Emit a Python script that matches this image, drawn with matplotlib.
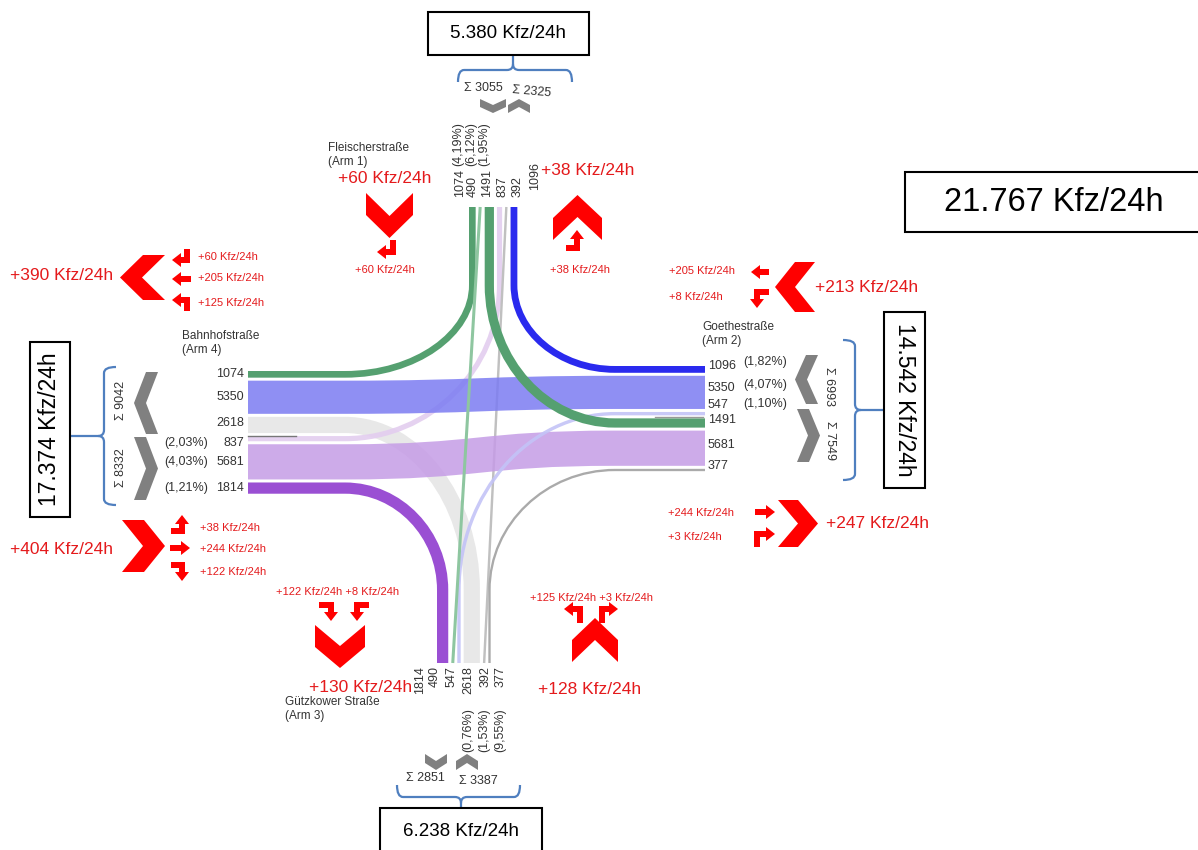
import matplotlib
matplotlib.use('Agg')
import matplotlib.pyplot as plt
from matplotlib.path import Path
from matplotlib.patches import PathPatch, Polygon, Rectangle

plt.rcParams['font.family'] = ['Liberation Sans', 'DejaVu Sans']

# Verkehrsströme Kfz/24h (von_nach)
flow_names = ['N_W', 'N_S', 'N_E', 'E_N', 'E_W', 'E_S', 'W_N', 'W_E', 'W_S', 'S_W', 'S_N', 'S_E']
flow_values = [1074, 490, 1491, 1096, 5350, 547, 837, 5681, 1814, 2618, 392, 377]
flow_colors = ['#55a070', '#8ec6a0', '#55a070', '#2a2aee', '#7c7cf2', '#c3c3f7',
               '#e3cdef', '#c59ce6', '#9a4fd3', '#e4e4e4', '#c0c0c0', '#aaaaaa']
flow_alpha = [1, 1, 1, 1, 0.85, 0.9, 0.9, 0.85, 1, 0.85, 1, 1]
flow_z = [5, 7, 6, 6, 4, 5, 2, 4, 5, 1, 3, 5]

# Reihenfolge der Ströme an jedem Arm
arm_north = ['N_W', 'N_S', 'N_E', 'W_N', 'S_N', 'E_N']
arm_west = ['N_W', 'E_W', 'S_W', 'W_N', 'W_E', 'W_S']
arm_east = ['E_N', 'E_W', 'E_S', 'N_E', 'W_E', 'S_E']
arm_south = ['W_S', 'N_S', 'E_S', 'S_W', 'S_N', 'S_E']

# Schwerverkehrsanteile
north_pct = ['(4,19%)', '(6,12%)', '(1,95%)']
west_pct = ['(2,03%)', '(4,03%)', '(1,21%)']
east_pct = ['(1,82%)', '(4,07%)', '(1,10%)']
south_pct = ['(0,76%)', '(1,53%)', '(9,55%)']

# Zusatzverkehr (rot)
add_arm1 = [60, 60]
add_top_right = [38, 38]
add_west_in = [390, 60, 205, 125]
add_east_in = [213, 205, 8]
add_west_out = [404, 38, 244, 122]
add_east_out = [247, 244, 3]
add_south_in = [130, 122, 8]
add_south_out = [128, 125, 3]

val = dict(zip(flow_names, flow_values))
PX = 0.72
K = 0.0062
GAP = 3
RED = '#e41a1c'
CHEV = '#ff0000'
GREY_T = '#333333'
GREY_C = '#808080'
BLUE = '#4f7fbf'


def de(v):
    return f'{v:,}'.replace(',', '.')


def kfz(v):
    return f'+{v} Kfz/24h'


def lanes(order, start):
    pos = {}
    c = start
    for n in order:
        w = val[n] * K
        pos[n] = c + w / 2
        c += w + GAP
    return pos


lane = {'N': lanes(arm_north, 469), 'S': lanes(arm_south, 437),
        'W': lanes(arm_west, 371), 'E': lanes(arm_east, 366)}
arm_end = {'N': 207, 'S': 663, 'W': 248, 'E': 705}
arm_run = {'N': 285, 'S': 590, 'W': 345, 'E': 615}


def pts(arm, name):
    p = lane[arm][name]
    if arm in 'NS':
        return (p, arm_end[arm]), (p, arm_run[arm])
    return (arm_end[arm], p), (arm_run[arm], p)


fig = plt.figure(figsize=(11.98, 8.5), dpi=100)
ax = fig.add_axes([0, 0, 1, 1])
ax.set_xlim(0, 1198)
ax.set_ylim(850, 0)
ax.axis('off')

# Ströme
for name, v, col, al, z in zip(flow_names, flow_values, flow_colors, flow_alpha, flow_z):
    a, b = name.split('_')
    ea, ra = pts(a, name)
    eb, rb = pts(b, name)
    if {a, b} == {'N', 'S'}:
        verts = [ea, eb]
        codes = [Path.MOVETO, Path.LINETO]
    elif {a, b} == {'W', 'E'}:
        xm = (ra[0] + rb[0]) / 2
        verts = [ea, ra, (xm, ra[1]), (xm, rb[1]), rb, eb]
        codes = [Path.MOVETO, Path.LINETO, Path.CURVE4, Path.CURVE4, Path.CURVE4, Path.LINETO]
    else:
        if a in 'NS':
            corner = (ra[0], rb[1])
        else:
            corner = (rb[0], ra[1])
        c1 = (ra[0] + 0.55 * (corner[0] - ra[0]), ra[1] + 0.55 * (corner[1] - ra[1]))
        c2 = (rb[0] + 0.55 * (corner[0] - rb[0]), rb[1] + 0.55 * (corner[1] - rb[1]))
        verts = [ea, ra, c1, c2, rb, eb]
        codes = [Path.MOVETO, Path.LINETO, Path.CURVE4, Path.CURVE4, Path.CURVE4, Path.LINETO]
    ax.add_patch(PathPatch(Path(verts, codes), facecolor='none', edgecolor=col,
                           lw=v * K * PX, alpha=al, capstyle='butt', joinstyle='round', zorder=z))

# kurze dunkle Striche an den Armen
ax.plot([248, 296], [lane['W']['W_N'] - 3, lane['W']['W_N'] - 3], color='#777777', lw=1, zorder=6)
ax.plot([655, 703], [lane['E']['E_S'] + 3, lane['E']['E_S'] + 3], color='#999999', lw=1, zorder=6)


def chevron(x0, y0, x1, y1, d, th, color):
    xm, ym = (x0 + x1) / 2, (y0 + y1) / 2
    if d == 'down':
        p = [(x0, y0), (xm, y1 - th), (x1, y0), (x1, y0 + th), (xm, y1), (x0, y0 + th)]
    elif d == 'up':
        p = [(x0, y1), (xm, y0 + th), (x1, y1), (x1, y1 - th), (xm, y0), (x0, y1 - th)]
    elif d == 'left':
        p = [(x1, y0), (x0 + th, ym), (x1, y1), (x1 - th, y1), (x0, ym), (x1 - th, y0)]
    else:
        p = [(x0, y0), (x1 - th, ym), (x0, y1), (x0 + th, y1), (x1, ym), (x0 + th, y0)]
    ax.add_patch(Polygon(p, closed=True, facecolor=color, edgecolor='none', zorder=8))


def turn_arrow(xs, ys, w=6, hw=14, hl=9):
    ax.plot(xs, ys, color=CHEV, lw=w * PX, solid_capstyle='butt', solid_joinstyle='miter', zorder=8)
    dx, dy = xs[-1] - xs[-2], ys[-1] - ys[-2]
    n = (dx ** 2 + dy ** 2) ** 0.5
    dx, dy = dx / n, dy / n
    px, py = -dy, dx
    ex, ey = xs[-1], ys[-1]
    ax.add_patch(Polygon([(ex + px * hw / 2, ey + py * hw / 2), (ex - px * hw / 2, ey - py * hw / 2),
                          (ex + dx * hl, ey + dy * hl)], closed=True, facecolor=CHEV,
                         edgecolor='none', zorder=8))


def brace(u0, u1, um, base, length, orient):
    halves = [[(u0, -12), (u0, 0), (u0 + 6, 0), (um - 6, 0), (um, 0), (um, 6), (um, length)],
              [(u1, -12), (u1, 0), (u1 - 6, 0), (um + 6, 0), (um, 0), (um, 6)]]
    codes_h = [[Path.MOVETO, Path.CURVE3, Path.CURVE3, Path.LINETO, Path.CURVE3, Path.CURVE3, Path.LINETO],
               [Path.MOVETO, Path.CURVE3, Path.CURVE3, Path.LINETO, Path.CURVE3, Path.CURVE3]]
    for h, c in zip(halves, codes_h):
        if orient == 'up':
            v = [(u, base - t) for u, t in h]
        elif orient == 'down':
            v = [(u, base + t) for u, t in h]
        elif orient == 'left':
            v = [(base - t, u) for u, t in h]
        else:
            v = [(base + t, u) for u, t in h]
        ax.add_patch(PathPatch(Path(v, c), facecolor='none', edgecolor=BLUE, lw=1.6, zorder=8))


def box(x, y, w, h, txt, size, rot=0):
    ax.add_patch(Rectangle((x, y), w, h, facecolor='white', edgecolor='black', lw=1.5, zorder=9))
    ax.text(x + w / 2, y + h / 2, txt, fontsize=size, rotation=rot, ha='center', va='center',
            color='black', zorder=10)


# Querschnittsbelastungen
tot_n = sum(val[n] for n in arm_north)
tot_s = sum(val[n] for n in arm_south)
tot_w = sum(val[n] for n in arm_west)
tot_e = sum(val[n] for n in arm_east)
box(428, 12, 161, 43, de(tot_n) + ' Kfz/24h', 13.5)
box(380, 808, 162, 46, de(tot_s) + ' Kfz/24h', 13.5)
box(30, 342, 40, 175, de(tot_w) + ' Kfz/24h', 16.5, 90)
box(884, 312, 41, 176, de(tot_e) + ' Kfz/24h', 16.5, -90)
box(905, 172, 297, 60, de(sum(flow_values)) + ' Kfz/24h', 23.5)

brace(458, 572, 513, 70, 15, 'up')
brace(397, 520, 461, 797, 11, 'down')
brace(367, 505, 436, 104, 34, 'left')
brace(340, 480, 410, 855, 29, 'right')

# Summen je Richtung
sn1 = sum(val[n] for n in arm_north[:3]); sn2 = sum(val[n] for n in arm_north[3:])
ss1 = sum(val[n] for n in arm_south[:3]); ss2 = sum(val[n] for n in arm_south[3:])
sw1 = sum(val[n] for n in arm_west[:3]); sw2 = sum(val[n] for n in arm_west[3:])
se1 = sum(val[n] for n in arm_east[:3]); se2 = sum(val[n] for n in arm_east[3:])
fs = 9
ax.text(483, 88, f'Σ {sn1}', fontsize=fs, ha='center', va='center', color=GREY_T)
ax.text(532, 92, f'Σ {sn2}', fontsize=fs, ha='center', va='center', color=GREY_T, rotation=-5)
ax.text(425, 778, f'Σ {ss1}', fontsize=fs, ha='center', va='center', color=GREY_T)
ax.text(478, 781, f'Σ {ss2}', fontsize=fs, ha='center', va='center', color=GREY_T)
ax.text(121, 400, f'Σ {sw1}', fontsize=fs, ha='center', va='center', color=GREY_T, rotation=90)
ax.text(121, 468, f'Σ {sw2}', fontsize=fs, ha='center', va='center', color=GREY_T, rotation=90)
ax.text(829, 386, f'Σ {se1}', fontsize=fs, ha='center', va='center', color=GREY_T, rotation=-90)
ax.text(830, 440, f'Σ {se2}', fontsize=fs, ha='center', va='center', color=GREY_T, rotation=-90)

chevron(480, 99, 506, 113, 'down', 8, GREY_C)
chevron(508, 99, 530, 113, 'up', 8, GREY_C)
chevron(425, 754, 447, 770, 'down', 9, GREY_C)
chevron(456, 754, 478, 770, 'up', 9, GREY_C)
chevron(134, 372, 158, 434, 'left', 12, GREY_C)
chevron(134, 437, 158, 500, 'right', 12, GREY_C)
chevron(795, 355, 818, 404, 'left', 12, GREY_C)
chevron(797, 409, 820, 462, 'right', 12, GREY_C)

# Stromstärken an den Armen
north_lx = [460, 473, 487, 503, 518, 535]
north_ly = [197, 197, 197, 197, 197, 190]
for n, x, y in zip(arm_north, north_lx, north_ly):
    ax.text(x, y, str(val[n]), fontsize=fs, rotation=90, ha='center', va='bottom', color=GREY_T)
for p, x in zip(north_pct, [458, 471, 484]):
    ax.text(x, 166, p, fontsize=fs, rotation=90, ha='center', va='bottom', color=GREY_T)

south_lx = [420, 435, 452, 468, 486, 501]
for n, x in zip(arm_south, south_lx):
    ax.text(x, 666, str(val[n]), fontsize=fs, rotation=90, ha='center', va='top', color=GREY_T)
for p, x in zip(south_pct, [468, 484, 500]):
    ax.text(x, 708, p, fontsize=fs, rotation=90, ha='center', va='top', color=GREY_T)

west_ly = [374, 397, 423, 443, 462, 488]
for n, y in zip(arm_west, west_ly):
    ax.text(244, y, str(val[n]), fontsize=fs, ha='right', va='center', color=GREY_T)
for p, y in zip(west_pct, west_ly[3:]):
    ax.text(208, y, p, fontsize=fs, ha='right', va='center', color=GREY_T)

east_ly = [366, 388, 405, 420, 445, 466]
for n, y in zip(arm_east, east_ly):
    ax.text(708, y, str(val[n]), fontsize=fs, ha='left', va='center', color=GREY_T)
for p, y in zip(east_pct, [362, 385, 404]):
    ax.text(743, y, p, fontsize=fs, ha='left', va='center', color=GREY_T)

# Straßennamen
for x, y, s, a in [(328, 148, 'Fleischerstraße', '(Arm 1)'), (182, 336, 'Bahnhofstraße', '(Arm 4)'),
                   (702, 327, 'Goethestraße', '(Arm 2)'), (285, 702, 'Gützkower Straße', '(Arm 3)')]:
    ax.text(x, y, s, fontsize=8.5, ha='left', va='center', color=GREY_T)
    ax.text(x, y + 14, a, fontsize=8.5, ha='left', va='center', color=GREY_T)

# Zusatzverkehr
big, small = 12.5, 8
chevron(366, 193, 413, 238, 'down', 22, CHEV)
turn_arrow([393, 393, 386], [240, 252, 252])
ax.text(385, 178, kfz(add_arm1[0]), fontsize=big, ha='center', va='center', color=RED)
ax.text(385, 270, kfz(add_arm1[1]), fontsize=small, ha='center', va='center', color=RED)

chevron(553, 195, 602, 240, 'up', 22, CHEV)
turn_arrow([566, 577, 577], [248, 248, 239])
ax.text(588, 170, kfz(add_top_right[0]), fontsize=big, ha='center', va='center', color=RED)
ax.text(580, 270, kfz(add_top_right[1]), fontsize=small, ha='center', va='center', color=RED)

chevron(120, 255, 165, 300, 'left', 22, CHEV)
turn_arrow([187, 187, 181], [249, 260, 260])
turn_arrow([191, 181], [279, 279])
turn_arrow([187, 187, 181], [311, 300, 300])
ax.text(62, 276, kfz(add_west_in[0]), fontsize=big, ha='center', va='center', color=RED)
for v, y in zip(add_west_in[1:], [257, 278, 303]):
    ax.text(198, y, kfz(v), fontsize=small, ha='left', va='center', color=RED)

chevron(775, 262, 815, 312, 'left', 20, CHEV)
turn_arrow([769, 760], [272, 272])
turn_arrow([769, 757, 757], [292, 292, 299])
ax.text(867, 287, kfz(add_east_in[0]), fontsize=big, ha='center', va='center', color=RED)
for v, y in zip(add_east_in[1:], [271, 297]):
    ax.text(669, y, kfz(v), fontsize=small, ha='left', va='center', color=RED)

chevron(122, 520, 165, 572, 'right', 22, CHEV)
turn_arrow([171, 182, 182], [531, 531, 524])
turn_arrow([170, 181], [548, 548])
turn_arrow([171, 182, 182], [565, 565, 572])
ax.text(62, 549, kfz(add_west_out[0]), fontsize=big, ha='center', va='center', color=RED)
for v, y in zip(add_west_out[1:], [528, 549, 572]):
    ax.text(200, y, kfz(v), fontsize=small, ha='left', va='center', color=RED)

chevron(778, 500, 818, 547, 'right', 20, CHEV)
turn_arrow([755, 766], [512, 512])
turn_arrow([757, 757, 766], [547, 534, 534])
ax.text(877, 524, kfz(add_east_out[0]), fontsize=big, ha='center', va='center', color=RED)
for v, y in zip(add_east_out[1:], [513, 537]):
    ax.text(668, y, kfz(v), fontsize=small, ha='left', va='center', color=RED)

chevron(315, 625, 365, 668, 'down', 22, CHEV)
turn_arrow([319, 331, 331], [605, 605, 612])
turn_arrow([369, 357, 357], [605, 605, 612])
ax.text(361, 688, kfz(add_south_in[0]), fontsize=big, ha='center', va='center', color=RED)
ax.text(338, 592, kfz(add_south_in[1]) + ' ' + kfz(add_south_in[2]), fontsize=small,
        ha='center', va='center', color=RED)

chevron(572, 618, 618, 662, 'up', 22, CHEV)
turn_arrow([580, 580, 573], [623, 609, 609])
turn_arrow([602, 602, 609], [623, 609, 609])
ax.text(590, 690, kfz(add_south_out[0]), fontsize=big, ha='center', va='center', color=RED)
ax.text(591, 598, kfz(add_south_out[1]) + ' ' + kfz(add_south_out[2]), fontsize=small,
        ha='center', va='center', color=RED)

fig.savefig('out.png', dpi=100, facecolor='white')
